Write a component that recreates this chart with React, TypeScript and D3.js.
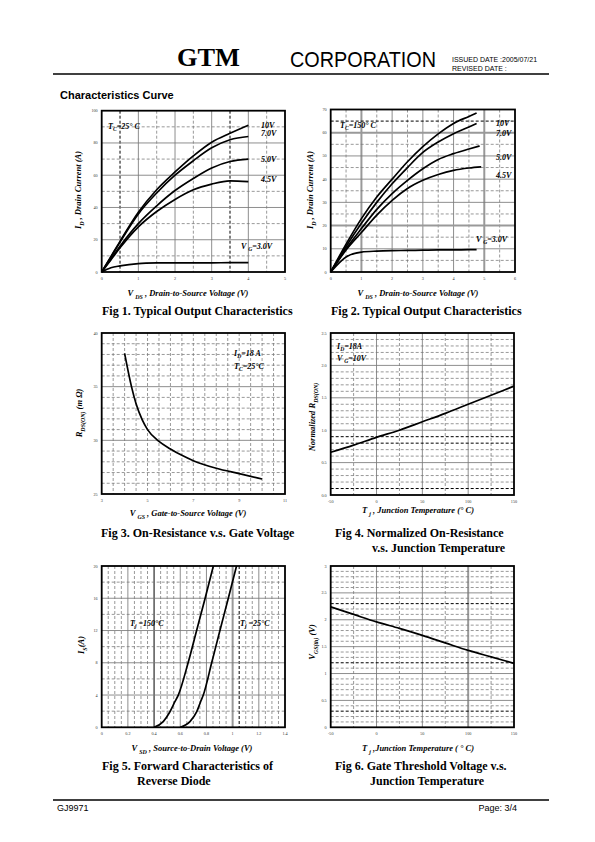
import React from 'react';
import * as d3 from 'd3';

const SERIF = '"Liberation Serif", "DejaVu Serif", serif';
const SANS = '"Liberation Sans", Arial, sans-serif';

// ---------- Fig 1 : Typical Output Characteristics, Tc = 25 C ----------
const fig1Vds = [0, 0.25, 0.5, 1, 1.5, 2, 2.5, 3, 3.5, 4];
const fig1Id10V = [0, 9.5, 19, 37, 51, 62, 72, 80.5, 86, 91];
const fig1Id7V = [0, 9.2, 18.5, 36, 49, 60, 69, 77, 82, 84];
const fig1Id5V = [0, 8, 16, 30, 41, 50.5, 58, 64.5, 68.5, 70];
const fig1Id45V = [0, 7.5, 15, 28, 37.5, 45, 51, 54.5, 56.5, 56];
const fig1Id3V = [0, 2.6, 3.8, 5.2, 5.6, 5.7, 5.7, 5.7, 5.8, 5.8];
const fig1XTicks = [0, 1, 2, 3, 4, 5];
const fig1YTicks = [0, 20, 40, 60, 80, 100];

// ---------- Fig 2 : Typical Output Characteristics, Tc = 150 C ----------
const fig2Vds = [0, 0.5, 1, 1.5, 2, 2.5, 3, 3.5, 4, 4.5, 4.75];
const fig2Id10V = [0, 12, 23, 32.3, 40, 47.5, 54, 59.5, 64, 67, 68.5];
const fig2Id7V = [0, 11, 21, 30, 38, 45, 51.5, 56, 59.6, 62.5, 64];
const fig2Vds5 = [0, 0.5, 1, 1.5, 2, 2.5, 3, 3.5, 4, 4.5, 4.85];
const fig2Id5V = [0, 10, 18.7, 27, 33.8, 39.5, 44.5, 48.5, 51, 53, 54.3];
const fig2Vds45 = [0, 0.5, 1, 1.5, 2, 2.5, 3, 3.5, 4, 4.5, 4.9];
const fig2Id45V = [0, 9.5, 17, 24.5, 30.9, 36, 39.5, 42, 43.8, 44.8, 45.3];
const fig2Id3V = [0, 6.5, 8.6, 9, 9.2, 9.3, 9.4, 9.5, 9.5, 9.6, 9.6];
const fig2XTicks = [0, 1, 2, 3, 4, 5, 6];
const fig2YTicks = [0, 10, 20, 30, 40, 50, 60, 70];

// ---------- Fig 3 : On-Resistance vs Gate Voltage ----------
const fig3Vgs = [4, 4.3, 4.5, 4.77, 5, 5.5, 6, 6.5, 7, 8, 9, 10];
const fig3Rds = [38.1, 35, 33.4, 31.9, 31.0, 29.9, 29.2, 28.6, 28.1, 27.4, 26.9, 26.4];
const fig3XTicks = [3, 5, 7, 9, 11];
const fig3YTicks = [25, 30, 35, 40];

// ---------- Fig 4 : Normalized On-Resistance vs Tj ----------
const fig4Tj = [-50, -25, 0, 25, 50, 75, 100, 125, 150];
const fig4Rn = [0.66, 0.77, 0.89, 1.0, 1.13, 1.26, 1.4, 1.54, 1.68];
const fig4XTicks = [-50, 0, 50, 100, 150];
const fig4YTicks = [0, 0.5, 1, 1.5, 2, 2.5];
const fig4YTickLabels = ['0.0', '0.5', '1.0', '1.5', '2.0', '2.5'];

// ---------- Fig 5 : Forward Characteristics of Reverse Diode ----------
const fig5Vsd150 = [0.4, 0.47, 0.52, 0.56, 0.585, 0.66, 0.725, 0.79, 0.853];
const fig5Is150 = [0, 0.7, 1.9, 3.2, 4, 8, 12, 16, 20];
const fig5Vsd25 = [0.6, 0.674, 0.725, 0.756, 0.776, 0.84, 0.903, 0.967, 1.03];
const fig5Is25 = [0, 0.7, 1.9, 3.2, 4, 8, 12, 16, 20];
const fig5XTicks = [0, 0.2, 0.4, 0.6, 0.8, 1, 1.2, 1.4];
const fig5YTicks = [0, 4, 8, 12, 16, 20];

// ---------- Fig 6 : Gate Threshold Voltage vs Tj ----------
const fig6Tj = [-50, -25, 0, 25, 50, 75, 100, 125, 150];
const fig6Vth = [2.24, 2.1, 1.96, 1.84, 1.71, 1.57, 1.43, 1.31, 1.19];
const fig6XTicks = [-50, 0, 50, 100, 150];
const fig6YTicks = [0, 0.5, 1, 1.5, 2, 2.5, 3];

type Part = [string, boolean?];

const LINE_STYLES: Record<string, any> = {
  minor: { stroke: '#777', strokeWidth: 0.75, strokeDasharray: '3,2' },
  major: { stroke: '#7a7a7a', strokeWidth: 0.85 },
  thick: { stroke: '#999', strokeWidth: 2 },
  dark: { stroke: '#000', strokeWidth: 1 },
  darkdash: { stroke: '#000', strokeWidth: 1, strokeDasharray: '3,2' },
};

function Rich({ x, y, parts, size = 8, anchor = 'start', rotate = false, weight = 'bold', italic = true, family = SERIF }: any) {
  let shifted = false;
  const shift = size * 0.3;
  const spans = parts.map((p: Part, i: number) => {
    const [t, sub] = p;
    let dy = 0;
    if (sub && !shifted) { dy = shift; shifted = true; }
    else if (!sub && shifted) { dy = -shift; shifted = false; }
    return (
      <tspan key={i} dy={dy} fontSize={sub ? size * 0.7 : size}>{t}</tspan>
    );
  });
  return (
    <text
      x={rotate ? 0 : x}
      y={rotate ? 0 : y}
      transform={rotate ? `translate(${x},${y}) rotate(-90)` : undefined}
      textAnchor={anchor}
      fontFamily={family}
      fontWeight={weight}
      fontStyle={italic ? 'italic' : 'normal'}
      fontSize={size}
      fill="#000"
    >
      {spans}
    </text>
  );
}

function Panel({ cfg }: any) {
  const x = d3.scaleLinear().domain(cfg.xDomain).range([cfg.left, cfg.right]);
  const y = d3.scaleLinear().domain(cfg.yDomain).range([cfg.bottom, cfg.top]);
  const line = d3
    .line<[number, number]>()
    .x((d) => x(d[0]))
    .y((d) => y(d[1]))
    .curve(d3.curveMonotoneX);

  const eps = 1e-9;
  const isMult = (v: number, s: number) => Math.abs(v / s - Math.round(v / s)) < 1e-6;
  const vVals = d3.range(cfg.xDomain[0], cfg.xDomain[1] + eps, cfg.xMinor).filter(
    (v: number) => v > cfg.xDomain[0] + eps && v < cfg.xDomain[1] - eps
  );
  const hVals = d3.range(cfg.yDomain[0], cfg.yDomain[1] + eps, cfg.yMinor).filter(
    (v: number) => v > cfg.yDomain[0] + eps && v < cfg.yDomain[1] - eps
  );
  const vSpecial: Record<string, string> = cfg.vSpecial || {};
  const hSpecial: Record<string, string> = cfg.hSpecial || {};
  const kindV = (v: number) => {
    const k = Object.keys(vSpecial).find((s) => Math.abs(+s - v) < 1e-6);
    if (k) return vSpecial[k];
    return isMult(v, cfg.xMajor) ? 'major' : 'minor';
  };
  const kindH = (v: number) => {
    const k = Object.keys(hSpecial).find((s) => Math.abs(+s - v) < 1e-6);
    if (k) return hSpecial[k];
    return isMult(v, cfg.yMajor) ? 'major' : 'minor';
  };
  const extraV: number[] = Object.keys(vSpecial).map(Number).filter((v) => !vVals.some((w: number) => Math.abs(w - v) < 1e-6));
  const extraH: number[] = Object.keys(hSpecial).map(Number).filter((v) => !hVals.some((w: number) => Math.abs(w - v) < 1e-6));

  return (
    <g>
      {[...vVals, ...extraV].map((v: number, i: number) => (
        <line key={'v' + i} x1={x(v)} x2={x(v)} y1={cfg.top} y2={cfg.bottom} {...LINE_STYLES[kindV(v)]} />
      ))}
      {[...hVals, ...extraH].map((v: number, i: number) => (
        <line key={'h' + i} y1={y(v)} y2={y(v)} x1={cfg.left} x2={cfg.right} {...LINE_STYLES[kindH(v)]} />
      ))}
      {cfg.series.map((s: any, i: number) => (
        <path
          key={'s' + i}
          d={line(s.x.map((xv: number, j: number) => [xv, s.y[j]]) as [number, number][]) || ''}
          fill="none"
          stroke="#000"
          strokeWidth={1.7}
        />
      ))}
      <rect
        x={cfg.left}
        y={cfg.top}
        width={cfg.right - cfg.left}
        height={cfg.bottom - cfg.top}
        fill="none"
        stroke="#000"
        strokeWidth={1.8}
      />
      {cfg.xTicks.map((v: number, i: number) => (
        <text key={'xt' + i} x={x(v)} y={cfg.bottom + 8} fontSize={4.2} fontFamily={SERIF} textAnchor="middle" fill="#333">
          {cfg.xTickLabels ? cfg.xTickLabels[i] : String(v)}
        </text>
      ))}
      {cfg.yTicks.map((v: number, i: number) => (
        <text key={'yt' + i} x={cfg.left - 4} y={y(v) + 1.5} fontSize={4.2} fontFamily={SERIF} textAnchor="end" fill="#333">
          {cfg.yTickLabels ? cfg.yTickLabels[i] : String(v)}
        </text>
      ))}
      {cfg.labels.map((l: any, i: number) => (
        <Rich key={'l' + i} x={l.x} y={l.y} parts={l.parts} size={l.size || 8} anchor={l.anchor || 'start'} />
      ))}
      <Rich x={cfg.xTitle.x} y={cfg.xTitle.y} parts={cfg.xTitle.parts} size={8.5} anchor="middle" />
      <Rich x={cfg.yTitle.x} y={cfg.yTitle.y} parts={cfg.yTitle.parts} size={8.5} anchor="middle" rotate />
      {cfg.caption.map((c: any, i: number) => (
        <text key={'c' + i} x={c.x} y={c.y} fontFamily={SERIF} fontWeight="bold" fontSize={12} fill="#000">
          {c.t}
        </text>
      ))}
    </g>
  );
}

const vdsTitle: Part[] = [['V '], ['DS', true], [' , Drain-to-Source Voltage (V)']];
const idTitle: Part[] = [['I'], ['D', true], [' , Drain Current (A)']];

const panels = [
  {
    left: 101.7, right: 285, top: 110.7, bottom: 272,
    xDomain: [0, 5], yDomain: [0, 100], xMinor: 0.5, xMajor: 1, yMinor: 10, yMajor: 20,
    vSpecial: { '0.5': 'darkdash', '3.5': 'darkdash' },
    xTicks: fig1XTicks, yTicks: fig1YTicks,
    series: [
      { x: fig1Vds, y: fig1Id10V }, { x: fig1Vds, y: fig1Id7V }, { x: fig1Vds, y: fig1Id5V },
      { x: fig1Vds, y: fig1Id45V }, { x: fig1Vds, y: fig1Id3V },
    ],
    labels: [
      { x: 108, y: 129, parts: [['T'], ['C', true], ['=25° C']] },
      { x: 261, y: 128, parts: [['10V']] },
      { x: 261, y: 135.5, parts: [['7.0V']] },
      { x: 261, y: 162, parts: [['5.0V']] },
      { x: 261, y: 182, parts: [['4.5V']] },
      { x: 241, y: 249, parts: [['V '], ['G', true], ['=3.0V']] },
    ],
    xTitle: { x: 188, y: 296, parts: vdsTitle },
    yTitle: { x: 81, y: 190, parts: idTitle },
    caption: [{ x: 102, y: 315, t: 'Fig 1. Typical Output Characteristics' }],
  },
  {
    left: 330.7, right: 515, top: 109.5, bottom: 272,
    xDomain: [0, 6], yDomain: [0, 70], xMinor: 0.5, xMajor: 1, yMinor: 5, yMajor: 10,
    vSpecial: { '1': 'thick', '5': 'thick' },
    hSpecial: { '20': 'thick', '60': 'thick', '65': 'darkdash' },
    xTicks: fig2XTicks, yTicks: fig2YTicks,
    series: [
      { x: fig2Vds, y: fig2Id10V }, { x: fig2Vds, y: fig2Id7V }, { x: fig2Vds5, y: fig2Id5V },
      { x: fig2Vds45, y: fig2Id45V }, { x: fig2Vds, y: fig2Id3V },
    ],
    labels: [
      { x: 340, y: 128, parts: [['T'], ['C', true], ['=150° C']] },
      { x: 496, y: 126, parts: [['10V']] },
      { x: 496, y: 136, parts: [['7.0V']] },
      { x: 496, y: 160, parts: [['5.0V']] },
      { x: 496, y: 178, parts: [['4.5V']] },
      { x: 476, y: 242, parts: [['V '], ['G', true], ['=3.0V']] },
    ],
    xTitle: { x: 418, y: 296, parts: vdsTitle },
    yTitle: { x: 313, y: 190, parts: idTitle },
    caption: [{ x: 331, y: 315, t: 'Fig 2. Typical Output Characteristics' }],
  },
  {
    left: 101.7, right: 285, top: 333, bottom: 494,
    xDomain: [3, 11], yDomain: [25, 40], xMinor: 0.5, xMajor: 100, yMinor: 1, yMajor: 5,
    xTicks: fig3XTicks, yTicks: fig3YTicks,
    series: [{ x: fig3Vgs, y: fig3Rds }],
    labels: [
      { x: 234, y: 356, parts: [['I'], ['D', true], ['=18 A']] },
      { x: 234, y: 369, parts: [['T'], ['C', true], ['=25°C']] },
    ],
    xTitle: { x: 188, y: 516, parts: [['V '], ['GS', true], [' , Gate-to-Source Voltage (V)']] },
    yTitle: { x: 82, y: 413, parts: [['R'], ['DS(ON)', true], [' (m Ω)']] },
    caption: [{ x: 101, y: 537, t: 'Fig 3. On-Resistance v.s. Gate Voltage' }],
  },
  {
    left: 330.7, right: 514, top: 333, bottom: 495,
    xDomain: [-50, 150], yDomain: [0, 2.5], xMinor: 25, xMajor: 50, yMinor: 0.1, yMajor: 0.5,
    hSpecial: { '0.1': 'darkdash', '0.8': 'darkdash', '0.9': 'darkdash' },
    xTicks: fig4XTicks, yTicks: fig4YTicks, yTickLabels: fig4YTickLabels,
    series: [{ x: fig4Tj, y: fig4Rn }],
    labels: [
      { x: 337, y: 349, parts: [['I'], ['D', true], ['=18A']] },
      { x: 337, y: 360.5, parts: [['V '], ['G', true], ['=10V']] },
    ],
    xTitle: { x: 418, y: 513, parts: [['T '], ['j', true], [' , Junction Temperature (° C)']] },
    yTitle: { x: 315, y: 417, parts: [['Normalized R'], ['DS(ON)', true]] },
    caption: [
      { x: 335, y: 537, t: 'Fig 4. Normalized On-Resistance' },
      { x: 372, y: 552, t: 'v.s. Junction Temperature' },
    ],
  },
  {
    left: 101.7, right: 285, top: 566, bottom: 727.3,
    xDomain: [0, 1.4], yDomain: [0, 20], xMinor: 0.05, xMajor: 0.2, yMinor: 2, yMajor: 4,
    vSpecial: { '0.4': 'dark', '1': 'thick', '1.05': 'darkdash' },
    xTicks: fig5XTicks, yTicks: fig5YTicks,
    series: [{ x: fig5Vsd150, y: fig5Is150 }, { x: fig5Vsd25, y: fig5Is25 }],
    labels: [
      { x: 130, y: 626, parts: [['T'], ['j', true], [' =150°C']] },
      { x: 240, y: 626, parts: [['T'], ['j', true], [' =25°C']] },
    ],
    xTitle: { x: 192, y: 751, parts: [['V '], ['SD', true], [' , Source-to-Drain Voltage (V)']] },
    yTitle: { x: 84, y: 645, parts: [['I'], ['S', true], ['(A)']] },
    caption: [
      { x: 102, y: 770, t: 'Fig 5. Forward Characteristics of' },
      { x: 137, y: 785, t: 'Reverse Diode' },
    ],
  },
  {
    left: 330.7, right: 514, top: 566, bottom: 727.3,
    xDomain: [-50, 150], yDomain: [0, 3], xMinor: 25, xMajor: 50, yMinor: 0.1, yMajor: 0.5,
    vSpecial: { '100': 'thick' },
    hSpecial: { '2.3': 'darkdash', '1.2': 'darkdash', '0.3': 'darkdash' },
    xTicks: fig6XTicks, yTicks: fig6YTicks,
    series: [{ x: fig6Tj, y: fig6Vth }],
    labels: [],
    xTitle: { x: 418, y: 751, parts: [['T '], ['j', true], [' ,Junction Temperature ( ° C)']] },
    yTitle: { x: 315, y: 642, parts: [['V'], ['GS(th)', true], [' (V)']] },
    caption: [
      { x: 335, y: 770, t: 'Fig 6. Gate Threshold Voltage v.s.' },
      { x: 370, y: 785, t: 'Junction Temperature' },
    ],
  },
];

export default function App() {
  return (
    <svg
      width={595}
      height={842}
      viewBox="0 0 595 842"
      style={{ position: 'absolute', left: 0, top: 0, background: '#fff' }}
    >
      <rect x={0} y={0} width={595} height={842} fill="#fff" />
      {/* header */}
      <text x={177} y={66} fontFamily={SERIF} fontWeight="bold" fontSize={25} fill="#000" textLength={63} lengthAdjust="spacingAndGlyphs">
        GTM
      </text>
      <text x={290} y={67} fontFamily={SANS} fontSize={22} fill="#000" textLength={146} lengthAdjust="spacingAndGlyphs">
        CORPORATION
      </text>
      <text x={452} y={62} fontFamily={SANS} fontSize={7} fill="#000">ISSUED DATE   :2005/07/21</text>
      <text x={452} y={71} fontFamily={SANS} fontSize={7} fill="#000">REVISED DATE :</text>
      <line x1={53} x2={549} y1={74} y2={74} stroke="#000" strokeWidth={1.3} />
      <text x={60} y={99} fontFamily={SANS} fontWeight="bold" fontSize={11} fill="#000">
        Characteristics Curve
      </text>
      {panels.map((p, i) => (
        <Panel key={i} cfg={p} />
      ))}
      {/* footer */}
      <line x1={53} x2={549} y1={800} y2={800} stroke="#000" strokeWidth={1.3} />
      <text x={57} y={811} fontFamily={SANS} fontSize={9} fill="#000">GJ9971</text>
      <text x={517} y={811} fontFamily={SANS} fontSize={9} fill="#000" textAnchor="end">Page: 3/4</text>
    </svg>
  );
}
